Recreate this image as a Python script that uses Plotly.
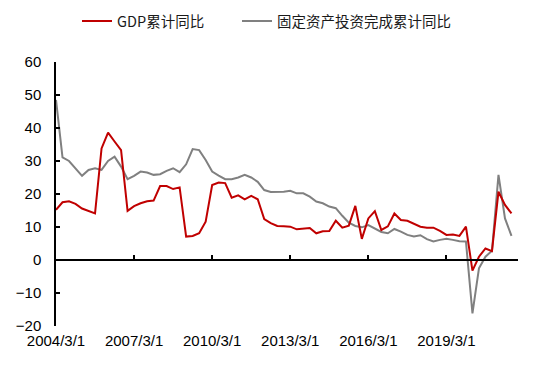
import plotly.graph_objects as go

# Quarterly categories 2004/3/1 ... 2021/9/1
dates = [f"{y}/{m}/1" for y in range(2004, 2022) for m in (3, 6, 9, 12)][:71]

gdp_yoy = [15.2, 17.5, 17.8, 17.0, 15.6, 14.8, 14.1, 33.8, 38.6, 35.9, 33.3,
           14.9, 16.3, 17.2, 17.8, 18.0, 22.4, 22.4, 21.5, 22.0, 7.1, 7.3, 8.1,
           11.6, 22.7, 23.5, 23.3, 18.9, 19.6, 18.4, 19.4, 18.4, 12.4, 11.2,
           10.3, 10.2, 10.1, 9.3, 9.5, 9.7, 8.1, 8.7, 8.8, 11.9, 9.8, 10.4,
           16.4, 6.4, 12.6, 14.8, 9.1, 10.2, 14.1, 12.1, 11.9, 11.1, 10.1, 9.8,
           9.8, 8.8, 7.6, 7.7, 7.3, 10.1, -3.2, 1.0, 3.5, 2.7, 20.7, 16.7, 14.1]

fai_yoy = [48.5, 31.1, 30.0, 27.8, 25.5, 27.3, 27.8, 27.3, 30.0, 31.3,
           28.3, 24.5, 25.5, 26.8, 26.5, 25.8, 26.0, 27.0, 27.8, 26.6,
           29.0, 33.6, 33.3, 30.3, 26.8, 25.6, 24.5, 24.5, 25.0, 25.8,
           25.0, 23.7, 21.2, 20.6, 20.6, 20.7, 21.0, 20.2, 20.2, 19.2,
           17.7, 17.2, 16.2, 15.7, 13.4, 11.3, 10.3, 9.9, 10.6, 9.6,
           8.5, 8.1, 9.4, 8.6, 7.6, 7.1, 7.5, 6.3, 5.6, 6.1,
           6.4, 6.1, 5.7, 5.6, -16.2, -2.5, 1.0, 2.8, 25.8, 12.6, 7.3]

tick_labels = ["2004/3/1", "2007/3/1", "2010/3/1", "2013/3/1", "2016/3/1", "2019/3/1"]

name_gdp = "GDP累计同比"
name_fai = "固定资产投资完成累计同比"

fig = go.Figure()
fig.add_trace(go.Scatter(x=dates, y=fai_yoy, name=name_fai, mode="lines",
                         line=dict(color="#808080", width=2), legend="legend2"))
fig.add_trace(go.Scatter(x=dates, y=gdp_yoy, name=name_gdp, mode="lines",
                         line=dict(color="#C00000", width=2), legend="legend"))
# invisible helper trace for the axis drawn at y=0
fig.add_trace(go.Scatter(x=dates, y=gdp_yoy, xaxis="x2", mode="lines",
                         line=dict(color="rgba(0,0,0,0)", width=0),
                         showlegend=False, hoverinfo="skip"))

tick_font = dict(family="Liberation Sans, Arial, sans-serif", size=15, color="#000000")
leg_font = dict(family="Noto Sans CJK SC, sans-serif", size=14.5, color="#1a1a1a")

fig.update_layout(
    width=550, height=367,
    margin=dict(l=56, r=32, t=62, b=41, autoexpand=False),
    paper_bgcolor="white", plot_bgcolor="white",
    showlegend=True,
    legend=dict(orientation="h", x=0.0455, xanchor="left", y=1.155, yanchor="middle",
                font=leg_font, bgcolor="rgba(0,0,0,0)"),
    legend2=dict(orientation="h", x=0.3918, xanchor="left", y=1.155, yanchor="middle",
                 font=leg_font, bgcolor="rgba(0,0,0,0)"),
    xaxis=dict(type="category", categoryorder="array", categoryarray=dates,
               range=[0, 71], showline=False, showgrid=False, zeroline=False,
               ticks="", tickmode="array", tickvals=tick_labels, ticktext=tick_labels,
               tickfont=tick_font, tickangle=0, ticklabelstandoff=4),
    xaxis2=dict(type="category", categoryorder="array", categoryarray=dates,
                range=[0, 71], overlaying="x", anchor="free", position=0.25,
                side="bottom", showline=True, linecolor="#000000", linewidth=1.5,
                ticks="inside", ticklen=4, tickwidth=1.5, tickcolor="#000000",
                tickmode="array", tickvals=tick_labels, showticklabels=False,
                showgrid=False, zeroline=False),
    yaxis=dict(range=[-20, 60], dtick=10, tick0=0, showgrid=False, zeroline=False,
               showline=True, linecolor="#000000", linewidth=1.5,
               ticks="inside", ticklen=4, tickwidth=1.5, tickcolor="#000000",
               tickfont=tick_font, ticklabelstandoff=10),
)

fig.write_html("out.html", config={"displayModeBar": False},
               post_script="document.body.style.margin='0';")
